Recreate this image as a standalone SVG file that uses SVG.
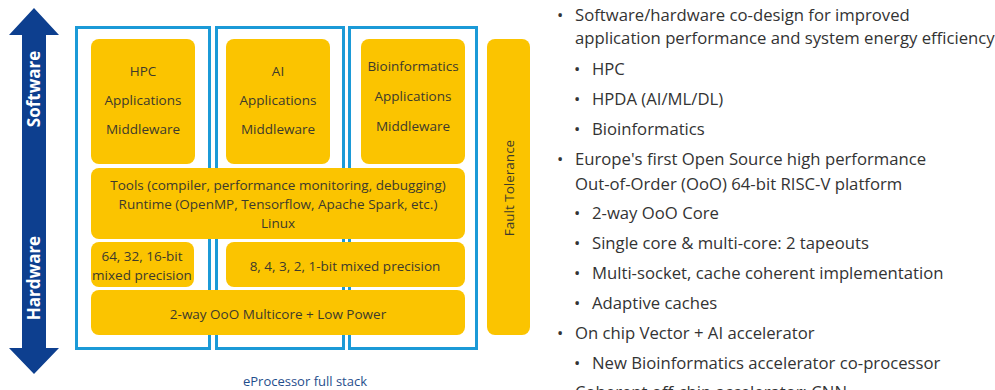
<svg xmlns="http://www.w3.org/2000/svg" width="995" height="390" viewBox="0 0 995 390">
  <style>
    .frame { fill: none; stroke: #1b9ad7; stroke-width: 3; }
    .box { fill: #fbc400; }
    .bt { font-family: "Open Sans", "Noto Sans", sans-serif; font-size: 13.5px; fill: #3d3a2c; text-anchor: middle; }
    .axis { font-family: "Open Sans", "Noto Sans", sans-serif; font-size: 17px; font-weight: bold; fill: #ffffff; text-anchor: middle; }
    .cap { font-family: "Open Sans", "Noto Sans", sans-serif; font-size: 13px; fill: #1f4e8c; text-anchor: middle; }
    .li { font-family: "Open Sans", "Noto Sans", sans-serif; font-size: 16.7px; fill: #333333; }
  </style>

  <!-- Software / Hardware axis -->
  <g id="axis">
    <polygon fill="#0d3f8f" points="34,8 59,35 46,35 46,348 59,348 34,374 9,348 22,348 22,35 9,35"/>
    <text class="axis" transform="translate(40,89) rotate(-90)">Software</text>
    <text class="axis" transform="translate(40,278) rotate(-90)">Hardware</text>
  </g>

  <!-- column frames -->
  <g id="frames">
    <rect class="frame" x="76.5" y="27.5" width="133" height="321"/>
    <rect class="frame" x="216.5" y="27.5" width="127" height="321"/>
    <rect class="frame" x="349.5" y="27.5" width="127" height="321"/>
  </g>

  <g id="hpc">
    <rect class="box" x="91" y="39" width="104" height="125" rx="8"/>
    <text class="bt" x="143" y="76">HPC</text>
    <text class="bt" x="143" y="105">Applications</text>
    <text class="bt" x="143" y="134">Middleware</text>
  </g>
  <g id="ai">
    <rect class="box" x="226" y="39" width="104" height="125" rx="8"/>
    <text class="bt" x="278" y="76">AI</text>
    <text class="bt" x="278" y="105">Applications</text>
    <text class="bt" x="278" y="134">Middleware</text>
  </g>
  <g id="bio">
    <rect class="box" x="361" y="39" width="104" height="125" rx="8"/>
    <text class="bt" x="413" y="71">Bioinformatics</text>
    <text class="bt" x="413" y="101">Applications</text>
    <text class="bt" x="413" y="131">Middleware</text>
  </g>
  <g id="tools">
    <rect class="box" x="91" y="168" width="374" height="71" rx="8"/>
    <text class="bt" x="278" y="190">Tools (compiler, performance monitoring, debugging)</text>
    <text class="bt" x="278" y="209">Runtime (OpenMP, Tensorflow, Apache Spark, etc.)</text>
    <text class="bt" x="278" y="228">Linux</text>
  </g>
  <g id="prec64">
    <rect class="box" x="91" y="242" width="103" height="45" rx="8"/>
    <text class="bt" x="142" y="261">64, 32, 16-bit</text>
    <text class="bt" x="142" y="280">mixed precision</text>
  </g>
  <g id="prec8">
    <rect class="box" x="226" y="242" width="239" height="45" rx="8"/>
    <text class="bt" x="345" y="271">8, 4, 3, 2, 1-bit mixed precision</text>
  </g>
  <g id="core">
    <rect class="box" x="91" y="290" width="374" height="45" rx="8"/>
    <text class="bt" x="278" y="319">2-way OoO Multicore + Low Power</text>
  </g>
  <g id="fault">
    <rect class="box" x="487" y="39" width="43" height="296" rx="8"/>
    <text class="bt" transform="translate(514,188) rotate(-90)">Fault Tolerance</text>
  </g>

  <text class="cap" x="305" y="386">eProcessor full stack</text>

  <!-- bullet list -->
  <g id="notes">
    <text class="li" x="557" y="21">•</text>
    <text class="li" x="575" y="21">Software/hardware co-design for improved</text>
    <text class="li" x="575" y="44">application performance and system energy efficiency</text>
    <text class="li" x="574" y="75">•</text>
    <text class="li" x="592" y="75">HPC</text>
    <text class="li" x="574" y="105">•</text>
    <text class="li" x="592" y="105">HPDA (AI/ML/DL)</text>
    <text class="li" x="574" y="135">•</text>
    <text class="li" x="592" y="135">Bioinformatics</text>
    <text class="li" x="557" y="165">•</text>
    <text class="li" x="575" y="165">Europe's first Open Source high performance</text>
    <text class="li" x="575" y="190">Out-of-Order (OoO) 64-bit RISC-V platform</text>
    <text class="li" x="574" y="219">•</text>
    <text class="li" x="592" y="219">2-way OoO Core</text>
    <text class="li" x="574" y="249">•</text>
    <text class="li" x="592" y="249">Single core &amp; multi-core: 2 tapeouts</text>
    <text class="li" x="574" y="279">•</text>
    <text class="li" x="592" y="279">Multi-socket, cache coherent implementation</text>
    <text class="li" x="574" y="309">•</text>
    <text class="li" x="592" y="309">Adaptive caches</text>
    <text class="li" x="557" y="339">•</text>
    <text class="li" x="575" y="339">On chip Vector + AI accelerator</text>
    <text class="li" x="574" y="369">•</text>
    <text class="li" x="592" y="369">New Bioinformatics accelerator co-processor</text>
    <text class="li" x="557" y="398">•</text>
    <text class="li" x="575" y="398">Coherent off-chip accelerator: CNN</text>
  </g>
</svg>
